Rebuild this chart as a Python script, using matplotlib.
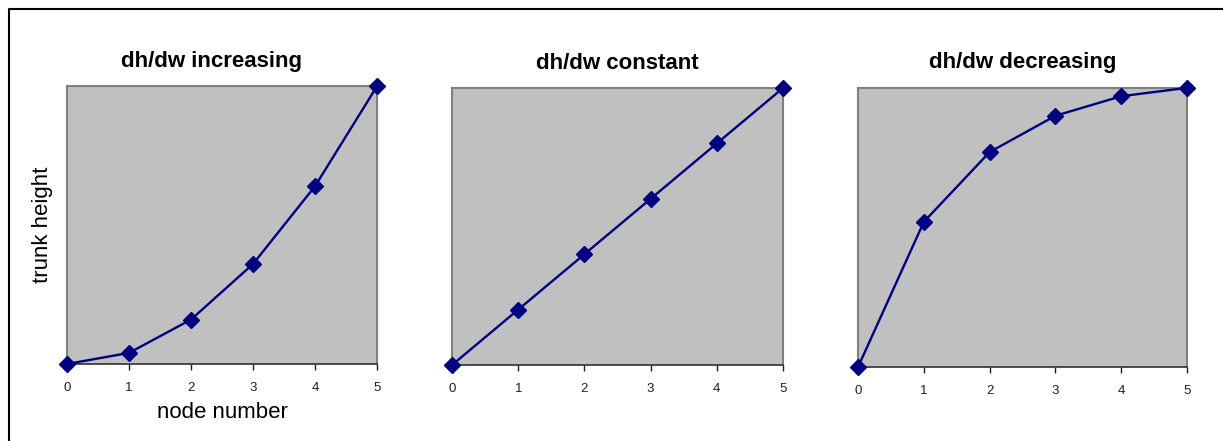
import matplotlib
matplotlib.use('Agg')
import matplotlib.pyplot as plt
from matplotlib.lines import Line2D

# node numbers and relative trunk heights
nodes = [0, 1, 2, 3, 4, 5]
h_increasing = [0, 1, 4, 9, 16, 25]
h_constant = [0, 1, 2, 3, 4, 5]
h_decreasing = [0, 0.52, 0.77, 0.9, 0.97, 1.0]

titles = ["dh/dw increasing", "dh/dw constant", "dh/dw decreasing"]
series = [h_increasing, h_constant, h_decreasing]
title_x = [0.465, 0.5, 0.5]

# axes boxes in figure fraction
boxes = [
    [0.0548, 0.1746, 0.2535, 0.630],
    [0.3696, 0.1723, 0.2706, 0.628],
    [0.7016, 0.1678, 0.2690, 0.633],
]

plt.rcParams['font.family'] = ['Liberation Sans', 'DejaVu Sans']

fig = plt.figure(figsize=(12.23, 4.41), dpi=100)

# outer frame (only top and left edges are visible in the crop)
fig.add_artist(Line2D([9 / 1223, 9 / 1223, 1.0], [0.0, 1 - 9 / 441, 1 - 9 / 441],
                      transform=fig.transFigure, color='black', lw=1.5))

for i in range(3):
    ax = fig.add_axes(boxes[i])
    ax.set_facecolor('#C0C0C0')
    ax.plot(nodes, series[i], color='#000080', lw=1.7, marker='D',
            markersize=8.5, markerfacecolor='#000080', markeredgecolor='#000080',
            clip_on=False, zorder=3)
    ax.set_xlim(0, 5)
    ax.set_ylim(0, max(series[i]))
    ax.set_xticks(nodes)
    ax.set_yticks([])
    ax.tick_params(axis='x', direction='out', length=4, width=1, color='#202020',
                   labelsize=9.5, pad=9, labelcolor='#202020')
    for side in ['top', 'left', 'right']:
        ax.spines[side].set_color('#808080')
        ax.spines[side].set_linewidth(1.5)
    ax.spines['bottom'].set_color('#303030')
    ax.spines['bottom'].set_linewidth(1.2)
    ax.set_title(titles[i], fontsize=16, fontweight='bold', pad=14, x=title_x[i])
    if i == 0:
        ax.set_xlabel("node number", fontsize=16, labelpad=6)
        ax.set_ylabel("trunk height", fontsize=16, labelpad=10)

fig.savefig("out.png", dpi=100)
